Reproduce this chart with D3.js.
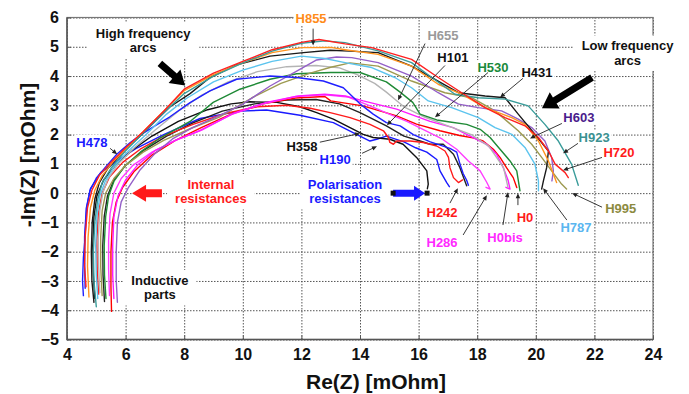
<!DOCTYPE html>
<html>
<head>
<meta charset="utf-8">
<script src="https://cdn.jsdelivr.net/npm/d3@7"></script>
<style>
  body { margin: 0; background: #fff; }
  svg { display: block; font-family: "Liberation Sans", Arial, sans-serif; font-weight: bold; }
</style>
</head>
<body>
<svg id="chart" width="689" height="394"></svg>
<script>
// Nyquist spectra: each series is a list of [Re(Z), -Im(Z)] pairs in mOhm
const h190 = [[4.62,-3.25],[4.6,-2.4],[4.6,-1.5],[4.66,-0.5],[4.8,0.15],[5.15,0.7],[5.7,1.1],[6.4,1.55],[7.3,2.0],[8.54,2.55],[9.9,2.8],[10.81,2.84],[11.95,2.66],[13.09,2.41],[13.88,2.01],[14.34,1.78],[14.57,1.84],[14.9,1.95],[15.5,1.75],[15.9,1.55],[16.28,1.4],[16.62,1.15],[16.73,0.76],[16.96,0.36],[17.05,0.22]];
const h358 = [[4.95,-3.6],[4.9,-2.8],[4.88,-1.8],[4.92,-0.8],[5.02,-0.1],[5.25,0.45],[5.65,0.95],[6.2,1.45],[6.9,1.95],[7.8,2.45],[8.8,2.85],[9.6,3.05],[10.25,3.12],[11.16,3.1],[11.95,2.95],[12.52,2.75],[13.09,2.53],[13.66,2.24],[14.11,2.01],[14.45,1.9],[15.02,1.84],[15.47,1.67],[15.93,1.22],[16.28,0.76],[16.33,0.31],[16.3,0.15]];
const h101 = [[5.28,-3.7],[5.23,-2.8],[5.22,-1.8],[5.27,-0.8],[5.38,-0.1],[5.6,0.45],[6.0,0.95],[6.6,1.45],[7.4,1.95],[8.3,2.4],[9.3,2.8],[10.4,3.05],[11.5,3.18],[12.5,3.2],[13.3,3.05],[14.0,2.75],[14.9,2.3],[15.5,1.95],[16.05,1.78],[16.39,1.67],[16.84,1.67],[17.19,1.33],[17.41,0.87],[17.64,0.25]];
const h242 = [[5.08,-3.45],[5.03,-2.6],[5.02,-1.6],[5.07,-0.7],[5.2,0.0],[5.45,0.55],[5.9,1.05],[6.5,1.5],[7.3,1.95],[8.3,2.35],[9.4,2.72],[10.5,2.95],[11.5,3.0],[12.3,2.9],[12.98,2.75],[13.66,2.58],[14.34,2.35],[14.8,2.13],[14.97,1.9],[15.02,1.73],[15.14,1.67],[15.25,1.78],[15.71,1.78],[16.16,1.73],[16.62,1.61],[16.9,1.44],[17.02,1.22],[17.07,0.87],[17.19,0.53],[17.36,0.36],[17.5,0.45]];
const h0 = [[5.52,-4.04],[5.5,-3.2],[5.5,-2.0],[5.55,-1.0],[5.68,-0.3],[5.9,0.2],[6.3,0.75],[6.9,1.3],[7.7,1.8],[8.6,2.25],[9.6,2.7],[10.7,3.05],[11.8,3.25],[12.8,3.3],[13.0,3.15],[14.1,2.98],[15.25,2.64],[15.93,2.36],[16.73,2.13],[17.4,1.97],[17.9,1.88],[18.2,1.78],[18.55,1.5],[18.78,1.22],[19.0,0.87],[19.23,0.53],[19.35,0.19]];
const h286 = [[5.45,-3.5],[5.42,-2.6],[5.42,-1.6],[5.47,-0.7],[5.6,0.0],[5.85,0.5],[6.25,0.95],[6.9,1.4],[7.7,1.8],[8.6,2.15],[9.6,2.68],[10.7,3.05],[11.8,3.3],[12.8,3.36],[13.6,3.28],[14.3,3.0],[15.0,2.7],[15.6,2.45],[16.2,2.15],[16.8,1.85],[17.3,1.5],[17.7,1.1],[18.1,0.76],[18.32,0.38],[18.44,0.14],[18.3,0.2]];
const h0bis = [[5.6,-3.6],[5.56,-2.8],[5.56,-1.8],[5.6,-0.8],[5.74,-0.1],[6.0,0.45],[6.4,0.95],[7.0,1.45],[7.7,1.8],[8.54,2.14],[9.67,2.72],[10.8,3.1],[11.9,3.32],[12.8,3.38],[13.5,3.32],[14.11,3.15],[15.25,2.87],[16.39,2.45],[17.18,2.24],[17.86,1.9],[18.32,1.67],[18.66,1.33],[18.89,0.87],[19.06,0.42],[19.12,0.14],[18.98,0.2]];
const h655 = [[5.12,-3.4],[5.08,-2.5],[5.07,-1.5],[5.12,-0.6],[5.22,0.0],[5.4,0.5],[5.75,1.0],[6.3,1.55],[7.0,2.15],[7.8,2.8],[8.6,3.35],[9.5,3.8],[10.5,4.15],[11.5,4.32],[12.5,4.36],[13.3,4.28],[13.9,4.05],[14.5,3.75],[14.9,3.45],[15.2,3.2],[15.5,2.95],[16.2,2.6],[17.0,2.3],[17.8,2.0],[18.4,1.6],[18.9,0.87],[19.05,0.2]];
const h530 = [[5.33,-3.6],[5.28,-2.8],[5.27,-1.8],[5.32,-0.8],[5.42,-0.1],[5.6,0.4],[5.95,0.9],[6.5,1.4],[7.2,1.9],[8.2,2.45],[8.99,3.1],[9.9,3.55],[10.93,3.89],[11.84,4.08],[13.0,4.12],[14.0,4.12],[14.9,3.8],[15.37,3.45],[15.8,3.1],[16.05,2.7],[16.62,2.5],[17.07,2.43],[17.64,2.35],[18.1,2.18],[18.44,1.9],[18.78,1.5],[19.12,1.1],[19.35,0.76],[19.46,0.08]];
const h995 = [[5.2,-3.5],[5.15,-2.5],[5.15,-1.5],[5.2,-0.6],[5.32,0.0],[5.6,0.5],[6.0,0.95],[6.6,1.4],[7.3,1.8],[8.2,2.2],[9.2,2.6],[10.3,3.25],[11.3,3.75],[12.3,4.1],[13.0,4.3],[13.66,4.45],[14.62,4.34],[15.76,3.83],[16.9,3.43],[17.81,3.26],[18.61,2.81],[19.4,2.13],[19.86,1.67],[20.2,1.22],[20.54,0.76],[20.88,0.31],[21.05,0.14]];
const h603 = [[5.72,-3.73],[5.68,-3.0],[5.68,-2.0],[5.72,-1.0],[5.85,-0.3],[6.1,0.2],[6.5,0.8],[7.0,1.35],[7.6,1.85],[8.3,2.25],[9.2,2.65],[10.0,3.04],[10.93,3.66],[11.84,4.17],[12.52,4.55],[13.2,4.65],[13.72,4.63],[14.62,4.46],[15.76,4.0],[16.67,3.43],[17.36,3.04],[18.04,2.92],[18.83,2.81],[19.4,2.53],[19.86,2.24],[20.31,1.78],[20.54,1.22],[20.6,0.76],[20.55,0.42]];
const h478 = [[4.56,-3.5],[4.53,-3.0],[4.56,-2.2],[4.61,-1.6],[4.67,-0.5],[4.78,0.08],[5.01,0.53],[5.35,0.93],[5.7,1.33],[6.15,1.72],[6.5,1.98],[7.0,2.3],[7.5,2.6],[8.2,3.09],[8.88,3.49],[9.79,3.89],[10.93,4.0],[11.84,3.95],[12.75,3.83],[13.43,3.6],[14.0,3.05],[14.45,2.7],[14.9,2.41],[15.37,2.3],[15.82,2.0],[16.4,1.75],[17.07,1.53],[17.3,1.4],[17.41,1.0],[17.52,0.67],[17.64,0.44],[17.7,0.27]];
const h787 = [[5.05,-3.6],[5.0,-2.8],[4.98,-1.8],[5.02,-0.8],[5.12,-0.1],[5.3,0.4],[5.6,0.9],[6.1,1.45],[6.7,2.0],[7.4,2.7],[8.1,3.25],[9.0,3.8],[10.0,4.2],[11.0,4.5],[12.0,4.68],[12.8,4.6],[13.49,4.46],[14.4,4.29],[15.19,3.95],[15.76,3.6],[16.33,3.15],[17.13,2.92],[18.04,2.58],[18.61,2.24],[19.18,2.01],[19.63,1.56],[19.97,0.99],[20.09,0.42],[20.09,0.08]];
const h431 = [[4.92,-3.73],[4.85,-3.0],[4.83,-2.0],[4.86,-1.0],[4.95,-0.2],[5.1,0.35],[5.4,0.85],[5.9,1.4],[6.5,1.95],[7.0,2.45],[7.52,2.95],[8.2,3.4],[8.88,3.95],[9.79,4.38],[10.93,4.68],[12.07,4.8],[12.98,4.88],[13.66,4.85],[14.62,4.8],[15.76,4.34],[16.56,3.89],[17.36,3.43],[18.27,3.32],[18.95,3.26],[19.4,2.7],[19.97,2.01],[20.43,1.44],[20.37,0.87],[20.26,0.42],[20.2,0.14]];
const h855 = [[4.75,-3.55],[4.7,-2.5],[4.72,-1.5],[4.8,-0.5],[4.95,0.1],[5.2,0.6],[5.6,1.1],[6.1,1.6],[6.7,2.2],[7.4,2.9],[8.0,3.5],[9.0,4.05],[10.0,4.45],[11.0,4.8],[12.0,4.97],[13.0,4.98],[13.49,4.9],[14.62,4.74],[15.76,4.34],[16.67,3.72],[17.47,3.38],[18.27,2.92],[19.18,2.58],[19.63,2.35],[20.09,1.78],[20.43,1.1],[20.6,0.65],[20.71,0.36]];
const h923 = [[5.0,-3.88],[4.92,-3.0],[4.9,-2.0],[4.95,-1.0],[5.05,-0.2],[5.2,0.35],[5.5,0.85],[6.0,1.45],[6.6,2.05],[7.3,2.75],[8.0,3.4],[9.0,4.0],[10.0,4.45],[11.0,4.85],[12.0,5.12],[12.8,5.2],[13.49,5.14],[14.62,4.86],[15.76,4.46],[16.45,3.95],[17.24,3.38],[18.04,3.26],[18.95,3.21],[19.74,2.98],[20.31,2.35],[20.77,1.78],[21.22,0.99],[21.45,0.27]];
const h720 = [[4.65,-3.2],[4.6,-2.5],[4.62,-1.5],[4.7,-0.5],[4.85,0.1],[5.1,0.6],[5.5,1.05],[6.0,1.55],[6.6,2.1],[7.3,2.8],[8.0,3.55],[9.0,4.1],[10.0,4.5],[11.0,4.9],[12.0,5.15],[12.6,5.25],[13.49,5.1],[14.4,4.97],[15.76,4.57],[16.67,3.95],[17.47,3.43],[18.27,2.92],[18.95,2.58],[19.63,2.3],[20.09,1.9],[20.43,1.44],[20.66,0.99],[21.0,0.7],[21.11,0.53]];

// Series in drawing order (later ones sit on top)
const seriesNames = ["H190","H358","H101","H242","H0","H286","H0bis","H655","H530","H995","H603","H478","H787","H431","H855","H923","H720"];
const seriesData  = [h190, h358, h101, h242, h0, h286, h0bis, h655, h530, h995, h603, h478, h787, h431, h855, h923, h720];

// Axis ticks
const xTicks = [4, 6, 8, 10, 12, 14, 16, 18, 20, 22, 24];
const yTicks = [-5, -4, -3, -2, -1, 0, 1, 2, 3, 4, 5, 6];
const xTitle = "Re(Z) [mOhm]";
const yTitle = "-Im(Z) [mOhm]";

// Line and label colours
const lineColor = {
  H190: "#1a1aff", H358: "#111111", H101: "#222222", H242: "#ff1a1a", H0: "#ff0000",
  H286: "#ff3dff", H0bis: "#ff1aff", H655: "#b4b4b4", H530: "#1f8a36", H995: "#9d9a50",
  H603: "#9460c8", H478: "#2020ff", H787: "#5cc4ee", H431: "#1a1a1a", H855: "#ff9420",
  H923: "#3a9c9a", H720: "#ff2020"
};
const labelColor = {
  H190: "#1a1aff", H358: "#111", H101: "#111", H242: "#ff1a1a", H0: "#ff1a1a",
  H286: "#ff2aff", H0bis: "#ff2aff", H655: "#9a9a9a", H530: "#1a8a3c", H995: "#8c8a40",
  H603: "#4a1c8c", H478: "#1a1aff", H787: "#5ab6f0", H431: "#111", H855: "#ff8c1a",
  H923: "#3b9191", H720: "#ff1a1a"
};

// Series tags: text anchor and leader arrow (start -> tip), in data units
const tags = [
  {name:"H855",  at:[12.33,5.97], from:[12.4,5.62],  to:[12.4,5.04]},
  {name:"H655",  at:[16.83,5.39], from:[16.22,5.11], to:[15.3,3.17]},
  {name:"H101",  at:[17.17,4.63], from:[16.9,4.36],  to:[14.92,2.32]},
  {name:"H530",  at:[18.54,4.29], from:[18.37,4.12], to:[16.56,2.59]},
  {name:"H431",  at:[20.04,4.12], from:[19.56,3.92], to:[18.78,3.27]},
  {name:"H603",  at:[21.47,2.59], from:[20.89,2.38], to:[19.8,1.87]},
  {name:"H923",  at:[21.99,1.9],  from:[21.44,1.70], to:[20.93,1.36]},
  {name:"H720",  at:[22.84,1.40], from:[22.26,1.22], to:[20.93,0.78]},
  {name:"H995",  at:[22.9,-0.52], from:[22.26,-0.48],to:[21.24,0.0]},
  {name:"H787",  at:[21.37,-1.16],from:[21.06,-0.92],to:[20.25,0.17]},
  {name:"H0",    at:[19.63,-0.82],from:[19.39,-0.41],to:[19.39,0.0]},
  {name:"H0bis", at:[18.95,-1.5], from:[18.88,-1.09],to:[19.05,0.03]},
  {name:"H286",  at:[16.8,-1.7],  from:[17.52,-1.43],to:[18.33,-0.07]},
  {name:"H242",  at:[16.8,-0.65], from:[17.07,-0.34],to:[17.34,0.17]},
  {name:"H190",  at:[13.15,1.16], from:[14.07,1.36], to:[14.58,1.6]},
  {name:"H358",  at:[12.02,1.6],  from:[12.63,1.74], to:[14.0,2.04]},
  {name:"H478",  at:[4.85,1.74],  from:[5.47,1.53],  to:[5.71,1.33]}
];

// Explanatory notes
const notes = [
  {lines:["High frequency","arcs"], at:[6.6,5.22], color:"#111"},
  {lines:["Low frequency","arcs"],  at:[23.13,4.78], color:"#111"},
  {lines:["Internal","resistances"], at:[8.91,0.05], color:"#ff1a1a"},
  {lines:["Polarisation","resistances"], at:[13.49,0.05], color:"#1a1aff"},
  {lines:["Inductive","parts"], at:[7.17,-3.23], color:"#111"}
];
const bigArrows = [
  {from:[7.17,4.43], to:[8.03,3.68], color:"#000", shaft:7, headL:14, headW:18},
  {from:[21.92,3.95], to:[20.21,2.9], color:"#000", shaft:7, headL:15, headW:19},
  {from:[7.24,0.0], to:[6.22,0.0], color:"#ff1a1a", shaft:8, headL:14, headW:17},
  {from:[15.13,0.0], to:[16.22,0.0], color:"#1a1aff", shaft:7, headL:11, headW:15}
];

// ---------------------------------------------------------------
const svg = d3.select("#chart");
const pLeft = 67, pRight = 653, pTop = 17.5, pBottom = 339.5;
const x = d3.scaleLinear().domain([4, 24]).range([pLeft, pRight]);
const y = d3.scaleLinear().domain([-5, 6]).range([pBottom, pTop]);

svg.append("defs").append("clipPath").attr("id", "plotClip")
  .append("rect").attr("x", pLeft).attr("y", pTop).attr("width", pRight - pLeft).attr("height", pBottom - pTop);

// grid
const gridG = svg.append("g");
gridG.append("g").attr("transform", `translate(0,${pBottom})`)
  .call(d3.axisBottom(x).tickValues(xTicks).tickSize(-(pBottom - pTop)).tickFormat(""))
  .call(g => g.select(".domain").remove());
gridG.append("g").attr("transform", `translate(${pLeft},0)`)
  .call(d3.axisLeft(y).tickValues(yTicks).tickSize(-(pRight - pLeft)).tickFormat(""))
  .call(g => g.select(".domain").remove());
gridG.selectAll("line").attr("stroke", "#555").attr("stroke-width", 1).attr("stroke-dasharray", "1.5,1.5");

// frame
svg.append("rect").attr("x", pLeft).attr("y", pTop).attr("width", pRight - pLeft).attr("height", pBottom - pTop)
  .attr("fill", "none").attr("stroke", "#777").attr("stroke-width", 1.2);
svg.append("path").attr("d", `M${pLeft},${pTop}V${pBottom}H${pRight}`)
  .attr("fill", "none").attr("stroke", "#555").attr("stroke-width", 1.5);

// axes labels
const xAxisG = svg.append("g").attr("transform", `translate(0,${pBottom})`)
  .call(d3.axisBottom(x).tickValues(xTicks).tickSizeInner(-4).tickSizeOuter(0).tickPadding(9).tickFormat(d3.format("d")));
const yAxisG = svg.append("g").attr("transform", `translate(${pLeft},0)`)
  .call(d3.axisLeft(y).tickValues(yTicks).tickSizeInner(-4).tickSizeOuter(0).tickPadding(8).tickFormat(d3.format("d")));
[xAxisG, yAxisG].forEach(g => {
  g.select(".domain").remove();
  g.selectAll("line").attr("stroke", "#555");
  g.selectAll("text").attr("fill", "#111").style("font-size", "16px").style("font-weight", "bold")
    .style("font-family", '"Liberation Sans", Arial, sans-serif');
});

svg.append("text").attr("x", 376).attr("y", 389).attr("text-anchor", "middle")
  .style("font-size", "21px").attr("fill", "#111").text(xTitle);
svg.append("text").attr("transform", "translate(35,155) rotate(-90)").attr("text-anchor", "middle")
  .style("font-size", "21px").attr("fill", "#111").text(yTitle);

// layers
const boxG = svg.append("g");
const lineG = svg.append("g").attr("clip-path", "url(#plotClip)");
const arrowG = svg.append("g");
const textG = svg.append("g");

// curves
const line = d3.line().x(d => x(d[0])).y(d => y(d[1]));
seriesNames.forEach((name, i) => {
  lineG.append("path").datum(seriesData[i]).attr("d", line)
    .attr("fill", "none").attr("stroke", lineColor[name]).attr("stroke-width", 1.4)
    .attr("stroke-linejoin", "round").attr("stroke-linecap", "round");
});

function arrowPoints(x1, y1, x2, y2, shaft, headL, headW) {
  const dx = x2 - x1, dy = y2 - y1, L = Math.hypot(dx, dy);
  const ux = dx / L, uy = dy / L, nx = -uy, ny = ux;
  const bx = x2 - ux * headL, by = y2 - uy * headL;
  const p = [
    [x1 + nx * shaft / 2, y1 + ny * shaft / 2],
    [bx + nx * shaft / 2, by + ny * shaft / 2],
    [bx + nx * headW / 2, by + ny * headW / 2],
    [x2, y2],
    [bx - nx * headW / 2, by - ny * headW / 2],
    [bx - nx * shaft / 2, by - ny * shaft / 2],
    [x1 - nx * shaft / 2, y1 - ny * shaft / 2]
  ];
  return p.map(q => q.join(",")).join(" ");
}

function addBox(node, padX, padY) {
  const b = node.getBBox();
  boxG.append("rect").attr("x", b.x - padX).attr("y", b.y - padY)
    .attr("width", b.width + 2 * padX).attr("height", b.height + 2 * padY).attr("fill", "#fff");
}

// series tags with leader arrows
tags.forEach(t => {
  const tx = textG.append("text").attr("x", x(t.at[0])).attr("y", y(t.at[1]))
    .attr("text-anchor", "middle").attr("dominant-baseline", "central")
    .style("font-size", "13px").attr("fill", labelColor[t.name]).text(t.name);
  addBox(tx.node(), 2, 0);
  const x1 = x(t.from[0]), y1 = y(t.from[1]), x2 = x(t.to[0]), y2 = y(t.to[1]);
  const dx = x2 - x1, dy = y2 - y1, L = Math.hypot(dx, dy);
  const ex = x2 - dx / L * 4, ey = y2 - dy / L * 4;
  arrowG.append("line").attr("x1", x1).attr("y1", y1).attr("x2", ex).attr("y2", ey)
    .attr("stroke", "#222").attr("stroke-width", 0.9);
  arrowG.append("polygon").attr("points", arrowPoints(ex, ey, x2, y2, 0, 5, 4.5)).attr("fill", "#222");
});

// explanatory notes
notes.forEach(n => {
  const g = textG.append("g");
  n.lines.forEach((s, k) => {
    g.append("text").attr("x", x(n.at[0])).attr("y", y(n.at[1]) + (k - (n.lines.length - 1) / 2) * 14.5)
      .attr("text-anchor", "middle").attr("dominant-baseline", "central")
      .style("font-size", "13px").attr("fill", n.color).text(s);
  });
  addBox(g.node(), 8, 3);
});

// thick arrows
bigArrows.forEach(a => {
  arrowG.append("polygon")
    .attr("points", arrowPoints(x(a.from[0]), y(a.from[1]), x(a.to[0]), y(a.to[1]), a.shaft, a.headL, a.headW))
    .attr("fill", a.color);
});
// end markers of the polarisation arrow
[[15.13, 0], [16.29, 0]].forEach(p => {
  arrowG.append("rect").attr("x", x(p[0]) - 2.5).attr("y", y(p[1]) - 2.5)
    .attr("width", 5).attr("height", 5).attr("fill", "#111");
});
</script>
</body>
</html>
